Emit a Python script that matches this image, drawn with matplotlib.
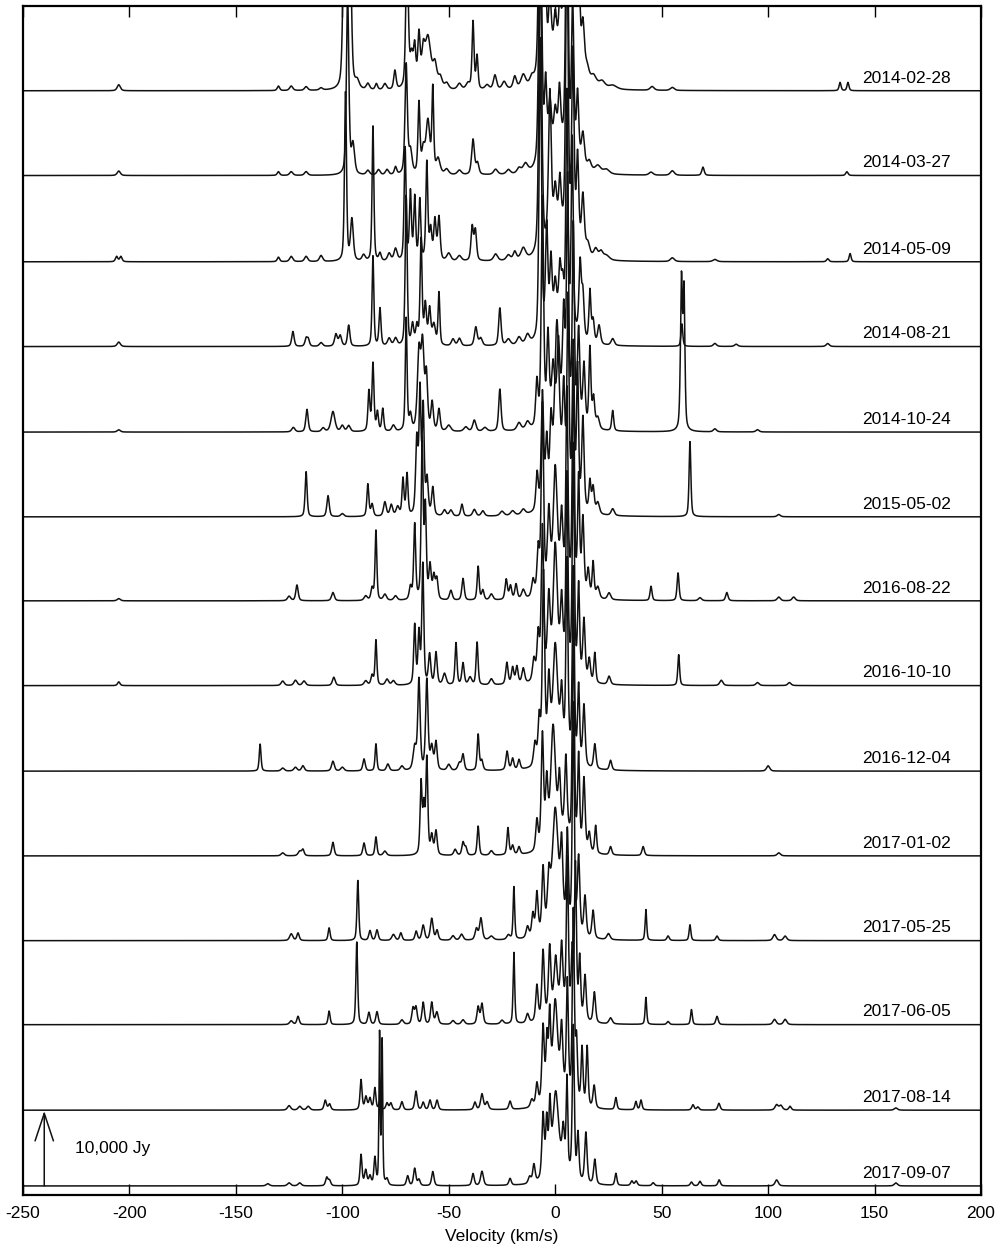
import numpy as np
import matplotlib
matplotlib.use("Agg")
import matplotlib.pyplot as plt

plt.rcParams["font.family"] = ["Liberation Sans", "DejaVu Sans"]

# ── Data: maser spectra as lists of (velocity km/s, peak kJy, width km/s) ────
DATES = [
    "2014-02-28", "2014-03-27", "2014-05-09", "2014-08-21", "2014-10-24",
    "2015-05-02", "2016-08-22", "2016-10-10", "2016-12-04", "2017-01-02",
    "2017-05-25", "2017-06-05", "2017-08-14", "2017-09-07",
]
# vertical offset of each spectrum (Jy)
OFFSETS = [146000, 134700, 123200, 111900, 100500, 89200, 78000,
           66700, 55300, 44000, 32700, 21500, 10100, 0]

PEAKS_2014_02_28 = [
    (-205, 0.8, 0.8), (-130, 0.6, 0.6), (-124, 0.6, 0.8), (-117, 0.5, 0.8),
    (-110, 0.3, 0.8), (-99, 25, 0.7), (-96.5, 25, 0.7), (-93, 1, 1),
    (-88, 0.8, 0.8), (-84, 0.8, 0.6), (-80, 0.8, 0.8), (-75.3, 2.5, 0.6),
    (-69.6, 20, 0.6), (-67.5, 4, 0.8), (-66, 5, 0.6), (-64, 6.8, 0.6),
    (-62, 4, 0.8), (-59.8, 6.8, 1.5), (-56.5, 3, 1), (-54, 1.5, 1),
    (-51, 0.8, 1), (-45, 0.8, 1), (-41, 0.8, 1), (-38.6, 9, 0.5),
    (-36.7, 4.4, 0.5), (-32, 0.6, 1), (-28.3, 1.9, 0.8), (-24, 1, 1),
    (-19, 1.6, 0.8), (-15, 1.7, 1.2), (-11, 1, 1), (-7, 40, 0.7),
    (-5, 25, 0.6), (-2.5, 9, 0.8), (0, 6, 0.8), (2.2, 7, 0.6), (4, 8, 0.6),
    (5.5, 40, 0.6), (8.2, 40, 0.7), (10.7, 30, 0.6), (13, 7, 0.8),
    (15, 1.8, 1), (18, 1.4, 1.5), (22, 0.9, 1.5), (27, 0.5, 2),
    (45.5, 0.5, 1), (55, 0.4, 1), (133.8, 1.1, 0.5), (137.5, 1.1, 0.5),
    (3, 4, 5),
]
PEAKS_2014_03_27 = [
    (-205, 0.6, 0.8), (-130, 0.5, 0.6), (-124, 0.5, 0.8), (-117, 0.5, 0.8),
    (-97.5, 24, 0.6), (-95, 3.9, 0.8), (-88, 0.6, 0.8), (-83, 0.7, 0.8),
    (-79, 0.7, 0.8), (-75, 1, 0.6), (-70, 14.6, 0.6), (-68, 3, 0.8),
    (-64, 9.3, 0.5), (-62, 3, 0.8), (-59.8, 7, 1.0), (-57.5, 11, 0.45),
    (-55, 2, 1), (-51, 0.7, 1), (-45, 0.6, 1), (-38.6, 4.7, 0.7),
    (-36.5, 1.5, 0.7), (-28, 0.7, 1), (-22, 0.6, 1), (-17, 0.7, 1),
    (-14, 1.2, 1.2), (-7, 40, 0.7), (-4.5, 10, 0.6), (-2.5, 7, 0.8),
    (0, 5, 0.8), (2, 7, 0.6), (5.5, 40, 0.6), (8.2, 20, 0.6),
    (10.5, 9, 0.6), (13, 4.5, 0.8), (16, 1.3, 1), (20, 1, 1.5),
    (24, 0.6, 1.5), (45, 0.4, 1), (55, 0.6, 1), (69.4, 1.1, 0.6),
    (137, 0.5, 0.6), (3, 4, 5),
]
PEAKS_2014_05_09 = [
    (-206, 0.7, 0.6), (-204, 0.7, 0.6), (-130, 0.6, 0.6), (-124, 0.7, 0.8),
    (-117, 0.7, 0.8), (-110, 0.8, 0.8), (-98.5, 22.5, 0.5), (-95.5, 5.5, 0.7),
    (-90, 0.8, 0.8), (-85.6, 18, 0.45), (-82.3, 1, 0.6), (-78, 1, 0.8),
    (-75, 1.6, 0.8), (-70.5, 15, 0.5), (-68, 9, 0.5), (-66, 8.3, 0.5),
    (-63.6, 8, 0.5), (-60.3, 13, 0.5), (-58.5, 4, 0.6), (-56.5, 5.3, 0.6),
    (-54.6, 5.7, 0.6), (-50, 1, 1), (-45, 0.7, 1), (-39, 4.5, 0.6),
    (-37.5, 4, 0.6), (-28, 0.9, 1), (-22, 0.7, 1), (-19, 1.1, 0.8),
    (-15, 1.5, 1.2), (-7, 40, 0.7), (-2.5, 20, 0.7), (0, 6, 0.8),
    (2.2, 6.3, 0.6), (5.5, 40, 0.6), (8.3, 25, 0.6), (10.5, 12, 0.6),
    (13, 7.6, 0.7), (15.3, 1.7, 1), (19, 1.3, 1), (21.5, 1, 1),
    (24, 0.6, 1.5), (55, 0.5, 1), (75, 0.3, 1), (128, 0.4, 0.6),
    (138.5, 1.1, 0.5), (3, 4, 5),
]
PEAKS_2014_08_21 = [
    (-205, 0.6, 0.8), (-123.2, 2, 0.6), (-117, 1, 0.6), (-116, 0.9, 0.6),
    (-110, 0.5, 0.8), (-103, 1.6, 0.7), (-101, 1.4, 0.7), (-97, 2.8, 0.6),
    (-85.6, 12, 0.45), (-82.3, 5, 0.5), (-78, 1, 0.8), (-75, 1, 0.8),
    (-70, 20, 0.5), (-67, 2.7, 0.6), (-65, 2.5, 0.6), (-63, 14, 0.5),
    (-61, 5.3, 0.6), (-59, 4.7, 0.6), (-57, 2.7, 0.8), (-54.6, 7, 0.45),
    (-48, 0.9, 0.8), (-45, 1, 0.8), (-37.3, 2.5, 0.7), (-35, 1, 0.8),
    (-26, 5, 0.6), (-22, 0.8, 1), (-17, 1, 1), (-13, 1.2, 1),
    (-7, 40, 0.6), (-4, 14, 0.6), (-2, 9, 0.6), (0, 5, 0.7),
    (2.2, 6.3, 0.6), (3.5, 4, 0.6), (5.5, 30, 0.5), (8, 25, 0.5),
    (11.7, 9.7, 0.6), (13, 5.7, 0.6), (16.3, 6.8, 0.5), (17.8, 3, 0.6),
    (20.6, 2.5, 0.7), (27, 0.9, 0.8), (59.5, 3, 0.45), (75, 0.4, 0.8),
    (85, 0.3, 0.8), (128, 0.4, 0.8), (3, 4, 5),
]
PEAKS_2014_10_24 = [
    (-205, 0.3, 0.8), (-123, 0.6, 0.8), (-116.6, 3, 0.6), (-109, 0.5, 0.8),
    (-104.4, 2.7, 1.0), (-100, 0.8, 0.8), (-97, 0.8, 0.8), (-87.5, 5.3, 0.5),
    (-85.6, 9, 0.5), (-83.5, 2.5, 0.5), (-81, 3, 0.5), (-76, 0.8, 0.8),
    (-70, 15, 0.45), (-68, 2, 0.6), (-64, 10, 0.8), (-62.3, 11, 0.8),
    (-60.5, 6.9, 0.6), (-57.8, 3.7, 0.6), (-54.6, 2.9, 0.6), (-50, 0.8, 1),
    (-42, 0.6, 1), (-38, 1.5, 0.8), (-33, 0.5, 1), (-26, 5.6, 0.6),
    (-17, 1, 1), (-13, 1, 1), (-8.6, 5.9, 0.6), (-6, 30, 0.6),
    (-3.4, 11, 0.6), (-1, 6, 0.7), (1.5, 8, 0.6), (4, 12, 0.6),
    (5.8, 30, 0.5), (8.5, 25, 0.5), (11, 12, 0.6), (13.5, 8, 0.6),
    (16.3, 10.5, 0.5), (18, 4, 0.6), (20, 1.5, 0.8), (27, 2.7, 0.5),
    (59.3, 20, 0.5), (60.5, 18, 0.45), (75, 0.4, 0.8), (95, 0.3, 0.8),
    (3, 4, 5),
]
PEAKS_2015_05_02 = [
    (-117, 6, 0.5), (-106.7, 2.8, 0.6), (-100, 0.4, 0.8), (-88, 4.3, 0.5),
    (-86, 1.6, 0.6), (-80, 1.9, 0.7), (-77, 1.5, 0.7), (-74, 1.2, 0.8),
    (-71.5, 4.9, 0.5), (-69.6, 5.5, 0.5), (-65, 10, 0.6), (-63.5, 16, 0.5),
    (-62, 14, 0.5), (-60.2, 4.7, 0.6), (-57.5, 3.7, 0.6), (-52, 0.8, 0.8),
    (-49, 0.8, 0.8), (-43.8, 1.6, 0.6), (-38, 0.9, 0.8), (-34, 0.7, 0.8),
    (-25, 0.6, 1), (-20, 0.6, 1), (-15, 0.7, 1), (-8.5, 4.9, 0.6),
    (-6, 15, 0.6), (-4, 8, 0.6), (-2, 9, 0.6), (0.8, 22, 1.2),
    (4, 12, 0.6), (6, 25, 0.5), (8.5, 20, 0.5), (10.5, 18, 0.5),
    (13, 12, 0.6), (16.3, 4, 0.5), (17.8, 3.4, 0.6), (20, 1.5, 0.8),
    (27, 0.9, 0.8), (63.3, 10, 0.45), (105, 0.3, 0.8), (3, 4, 5),
]
PEAKS_2016_08_22 = [
    (-205, 0.3, 0.8), (-125, 0.6, 0.8), (-121.3, 2.1, 0.6), (-104.4, 1.1, 0.7),
    (-89, 0.6, 0.8), (-86, 1.6, 0.6), (-84.2, 9.3, 0.45), (-80, 0.8, 0.8),
    (-75, 0.6, 0.8), (-68, 1.7, 0.6), (-66, 10, 0.5), (-62.5, 21, 0.5),
    (-61, 12, 0.5), (-58.8, 4.4, 0.6), (-57, 3, 0.6), (-55.6, 2.7, 0.6),
    (-49, 1.3, 0.7), (-43.3, 2.9, 0.6), (-36.2, 4.5, 0.5), (-34, 1.3, 0.6),
    (-30, 0.8, 0.8), (-23, 2.7, 0.6), (-21, 1.8, 0.6), (-18.4, 2, 0.6),
    (-15, 1.2, 0.8), (-10.4, 2.2, 0.7), (-8, 6, 0.6), (-6, 25, 0.6),
    (-3, 10, 0.7), (0, 15, 1.0), (3, 8, 0.6), (5.5, 25, 0.5),
    (8.5, 30, 0.5), (11, 15, 0.5), (13, 10, 0.6), (15.5, 3.5, 0.6),
    (17.8, 4.7, 0.5), (20, 1.5, 0.8), (25.3, 0.9, 0.8), (45, 1.9, 0.5),
    (57.7, 3.7, 0.5), (68, 0.4, 0.8), (80.6, 1.1, 0.6), (105, 0.5, 0.8),
    (112, 0.5, 0.8), (3, 3, 5),
]
PEAKS_2016_10_10 = [
    (-205, 0.5, 0.6), (-128, 0.6, 0.8), (-122, 0.7, 0.8), (-118, 0.6, 0.8),
    (-104, 1.1, 0.7), (-89, 0.6, 0.8), (-86, 1.3, 0.6), (-84.2, 6, 0.45),
    (-79, 0.8, 0.8), (-76, 0.6, 0.8), (-66, 7.9, 0.5), (-64, 6.8, 0.5),
    (-62.2, 16, 0.5), (-59, 4, 0.6), (-56, 4.3, 0.6), (-52, 1.5, 0.8),
    (-46.6, 5.6, 0.5), (-43.3, 2.9, 0.6), (-40, 1, 0.8), (-36.7, 5.7, 0.5),
    (-30, 0.8, 0.8), (-22.7, 2.9, 0.6), (-20, 2.2, 0.6), (-18, 2.3, 0.6),
    (-15, 2, 0.7), (-10, 2.9, 0.7), (-8, 6, 0.6), (-6, 20, 0.6),
    (-3, 10, 0.7), (0, 16, 1.0), (3, 8, 0.6), (5.5, 25, 0.5),
    (8.5, 30, 0.5), (11, 12, 0.5), (13.5, 8, 0.6), (16, 3, 0.6),
    (18.6, 4, 0.5), (25.3, 1.1, 0.7), (58, 4.1, 0.45), (78, 0.7, 0.8),
    (95, 0.4, 0.8), (110, 0.4, 0.8), (3, 3, 5),
]
PEAKS_2016_12_04 = [
    (-138.6, 3.6, 0.45), (-128, 0.4, 0.8), (-122, 0.5, 0.8), (-118.5, 0.7, 0.7),
    (-104.4, 1.3, 0.7), (-100, 0.5, 0.8), (-89.8, 1.6, 0.6), (-84.2, 3.6, 0.45),
    (-78.6, 0.9, 0.7), (-72, 0.6, 0.8), (-66, 3, 0.8), (-64, 12, 0.6),
    (-60.3, 12, 0.6), (-58, 3, 0.7), (-56, 3.7, 0.6), (-50, 0.8, 0.8),
    (-45, 1, 0.8), (-43.3, 2.1, 0.6), (-36.2, 4.8, 0.5), (-34.5, 1.3, 0.6),
    (-22.6, 2.5, 0.6), (-20, 1.5, 0.6), (-17, 1.3, 0.6), (-9.5, 3, 0.7),
    (-7.5, 6, 0.6), (-5.5, 25, 0.6), (-3, 10, 0.7), (0, 14, 1.2),
    (3, 7, 0.6), (5.5, 25, 0.5), (8.5, 25, 0.5), (11, 10, 0.5),
    (13.5, 8, 0.6), (18.6, 3.3, 0.6), (26, 1.3, 0.6), (100, 0.7, 0.8),
    (3, 3, 5),
]
PEAKS_2017_01_02 = [
    (-128, 0.4, 0.8), (-120, 0.6, 0.8), (-118.5, 0.8, 0.6), (-104.4, 1.8, 0.6),
    (-89.8, 1.7, 0.6), (-84.2, 2.5, 0.5), (-80, 0.6, 0.8), (-63, 9.5, 0.5),
    (-61.7, 6, 0.5), (-60.3, 12.7, 0.5), (-58, 2.5, 0.6), (-56, 3.2, 0.6),
    (-47, 0.8, 0.7), (-43.3, 1.7, 0.6), (-42, 1, 0.6), (-36.2, 3.9, 0.5),
    (-30, 0.6, 0.8), (-22.2, 3.6, 0.5), (-20, 1.2, 0.6), (-17, 1, 0.6),
    (-8.6, 4, 0.6), (-6, 15, 0.6), (-4, 8, 0.6), (-1, 15, 1.2),
    (2, 7, 0.6), (5, 10, 0.6), (8.5, 30, 0.5), (11, 12, 0.5),
    (13.5, 9.5, 0.6), (16, 2.5, 0.6), (19, 3.7, 0.5), (26, 1.1, 0.6),
    (41.3, 1.2, 0.6), (105, 0.4, 0.8), (3, 3, 5),
]
PEAKS_2017_05_25 = [
    (-124, 0.9, 0.8), (-120.8, 1, 0.6), (-106.2, 1.7, 0.5), (-92.7, 8, 0.45),
    (-87, 1.3, 0.6), (-83.7, 1.4, 0.6), (-76, 0.8, 0.8), (-72.5, 1, 0.6),
    (-65.3, 1.2, 0.6), (-62, 2, 0.7), (-58, 2.9, 0.7), (-55.5, 1.3, 0.6),
    (-48, 0.6, 0.8), (-44, 0.8, 0.8), (-37, 1.5, 0.7), (-34.9, 2.9, 0.7),
    (-30, 0.5, 1), (-22, 0.6, 0.8), (-19.4, 7, 0.4), (-13, 1.5, 0.7),
    (-10.5, 3, 0.6), (-8.6, 5.6, 0.6), (-5.7, 8.4, 0.6), (-3, 6, 0.7),
    (0, 15, 1.5), (3, 9, 0.6), (5.7, 12, 0.5), (8.5, 30, 0.5),
    (11, 10, 0.6), (14, 5.3, 0.6), (17.8, 3.7, 0.6), (25, 0.8, 0.8),
    (42.6, 4.1, 0.4), (53, 0.6, 0.6), (63.3, 2.1, 0.45), (76, 0.6, 0.6),
    (103, 0.8, 0.8), (108, 0.6, 0.8), (2, 2.5, 5),
]
PEAKS_2017_06_05 = [
    (-124, 0.5, 0.8), (-120.8, 1.1, 0.6), (-106.2, 1.8, 0.5), (-93.2, 11, 0.45),
    (-87.5, 1.6, 0.6), (-83.7, 1.7, 0.6), (-72, 0.6, 0.8), (-66.8, 2.1, 0.6),
    (-65.4, 2.2, 0.6), (-62, 2.9, 0.6), (-58, 2.9, 0.6), (-55.6, 1.6, 0.7),
    (-48, 0.5, 0.8), (-43.3, 0.6, 0.8), (-36.2, 2.3, 0.6), (-34.4, 2.7, 0.6),
    (-25, 0.5, 0.8), (-19.4, 9.5, 0.4), (-13, 1.2, 0.7), (-8.6, 4.7, 0.6),
    (-5.7, 8.9, 0.6), (-2.6, 8.7, 0.6), (0.2, 6.4, 0.8), (3, 8, 0.6),
    (5.7, 20, 0.5), (8, 8, 0.5), (9.5, 20, 0.5), (11.5, 8, 0.5),
    (14, 6, 0.6), (18.4, 4.1, 0.6), (26, 0.8, 0.8), (42.6, 3.6, 0.4),
    (53, 0.4, 0.6), (64, 2, 0.45), (76, 1.1, 0.6), (103, 0.7, 0.8),
    (108, 0.7, 0.8), (2, 2.5, 5),
]
PEAKS_2017_08_14 = [
    (-125, 0.6, 0.8), (-120, 0.5, 0.8), (-116, 0.5, 0.8), (-108, 1.3, 0.6),
    (-106, 0.8, 0.6), (-91.2, 4, 0.5), (-88.9, 1.7, 0.6), (-87, 1.5, 0.6),
    (-84.7, 2.9, 0.5), (-82.3, 1.3, 0.5), (-79, 0.9, 0.6), (-77.2, 0.9, 0.6),
    (-72, 1.1, 0.6), (-65.4, 2.5, 0.6), (-62, 1, 0.6), (-58.8, 1.3, 0.6),
    (-55.5, 1.3, 0.6), (-37.7, 1, 0.6), (-34.4, 2.1, 0.7), (-32, 1, 0.7),
    (-21.2, 1.1, 0.6), (-11, 1, 0.7), (-8.6, 2.9, 0.6), (-5.7, 10, 0.6),
    (-3.9, 7.7, 0.5), (-2.6, 10, 0.5), (0, 12, 1.2), (3, 8, 0.6),
    (5.7, 15, 0.5), (8.5, 25, 0.5), (10, 8, 0.5), (12.6, 7.6, 0.5),
    (15, 8, 0.5), (18.3, 3, 0.6), (28.5, 1.6, 0.5), (37.9, 1.1, 0.5),
    (40.3, 1.3, 0.5), (64.7, 0.7, 0.6), (67, 0.4, 0.6), (76.9, 0.9, 0.6),
    (104, 0.7, 0.8), (106, 0.6, 0.8), (110.3, 0.5, 0.6), (160, 0.3, 0.8),
    (2, 2.5, 5),
]
PEAKS_2017_09_07 = [
    (-135, 0.3, 0.8), (-125, 0.4, 0.8), (-120, 0.4, 0.8), (-107.3, 1.1, 0.6),
    (-106, 0.7, 0.6), (-91.2, 4.1, 0.5), (-89, 2, 0.6), (-87, 1.2, 0.6),
    (-84.7, 3.6, 0.5), (-82.5, 20, 0.3), (-81.3, 19, 0.3), (-79, 0.8, 0.6),
    (-69.3, 1.3, 0.6), (-66, 2.3, 0.6), (-64, 0.8, 0.6), (-57.5, 1.9, 0.6),
    (-38.6, 1.6, 0.6), (-34.4, 1.9, 0.7), (-21.2, 0.9, 0.6), (-12, 0.9, 0.7),
    (-10, 2.4, 0.6), (-5.7, 8.4, 0.6), (-4, 7, 0.5), (-2.5, 8.3, 0.5),
    (0.2, 10, 1.4), (3.8, 4.9, 0.6), (5.5, 12, 0.4), (8.5, 20, 0.5),
    (10.7, 6, 0.5), (14.4, 6.7, 0.6), (18.6, 3.3, 0.6), (28.5, 1.6, 0.5),
    (36, 0.6, 0.6), (38, 0.6, 0.6), (46, 0.4, 0.6), (64, 0.5, 0.6),
    (68, 0.6, 0.6), (77, 0.8, 0.6), (104, 0.8, 0.8), (160, 0.4, 0.8),
    (2, 2.5, 5),
]

ALL_PEAKS = [
    PEAKS_2014_02_28, PEAKS_2014_03_27, PEAKS_2014_05_09, PEAKS_2014_08_21,
    PEAKS_2014_10_24, PEAKS_2015_05_02, PEAKS_2016_08_22, PEAKS_2016_10_10,
    PEAKS_2016_12_04, PEAKS_2017_01_02, PEAKS_2017_05_25, PEAKS_2017_06_05,
    PEAKS_2017_08_14, PEAKS_2017_09_07,
]

XTICKS = [-250, -200, -150, -100, -50, 0, 50, 100, 150, 200]


def spectrum(vel, peaks):
    # pseudo-Voigt line shape: sharp tips with soft wings
    flux = np.zeros_like(vel)
    for v0, amp, w in peaks:
        x = (vel - v0) / w
        shape = 0.55 / (1.0 + x ** 2) + 0.45 * np.exp(-0.5 * x ** 2)
        flux += amp * 1000.0 * shape
    return flux


fig = plt.figure(figsize=(10.07, 12.51), dpi=100)
ax = fig.add_axes([0.0228, 0.0448, 0.9514, 0.9504])

vel = np.arange(-250, 200.01, 0.1)
for date, off, peaks in zip(DATES, OFFSETS, ALL_PEAKS):
    ax.plot(vel, off + spectrum(vel, peaks), color="#111111", lw=1.1)
    ax.text(186, off + 700, date, ha="right", va="bottom", fontsize=12.5)

# scale bar
ax.annotate("", xy=(-240, 10000), xytext=(-240, 0),
            arrowprops=dict(arrowstyle="->,head_length=0.9,head_width=0.3",
                            lw=1.1, color="#111111", mutation_scale=22,
                            shrinkA=0, shrinkB=0))
ax.text(-225.5, 5000, "10,000 Jy", ha="left", va="center", fontsize=12.5)

ax.set_xlim(-250, 200)
ax.set_ylim(-1200, 157300)
ax.set_xticks(XTICKS)
ax.set_xticklabels([str(t) for t in XTICKS])
ax.set_yticks([])
ax.tick_params(axis="x", direction="in", length=8, width=1.0, top=True,
               labelsize=12.5, pad=8)
for s in ax.spines.values():
    s.set_linewidth(1.6)
ax.set_xlabel("Velocity (km/s)", fontsize=12.5, labelpad=6)

fig.savefig("out.png", dpi=100)
